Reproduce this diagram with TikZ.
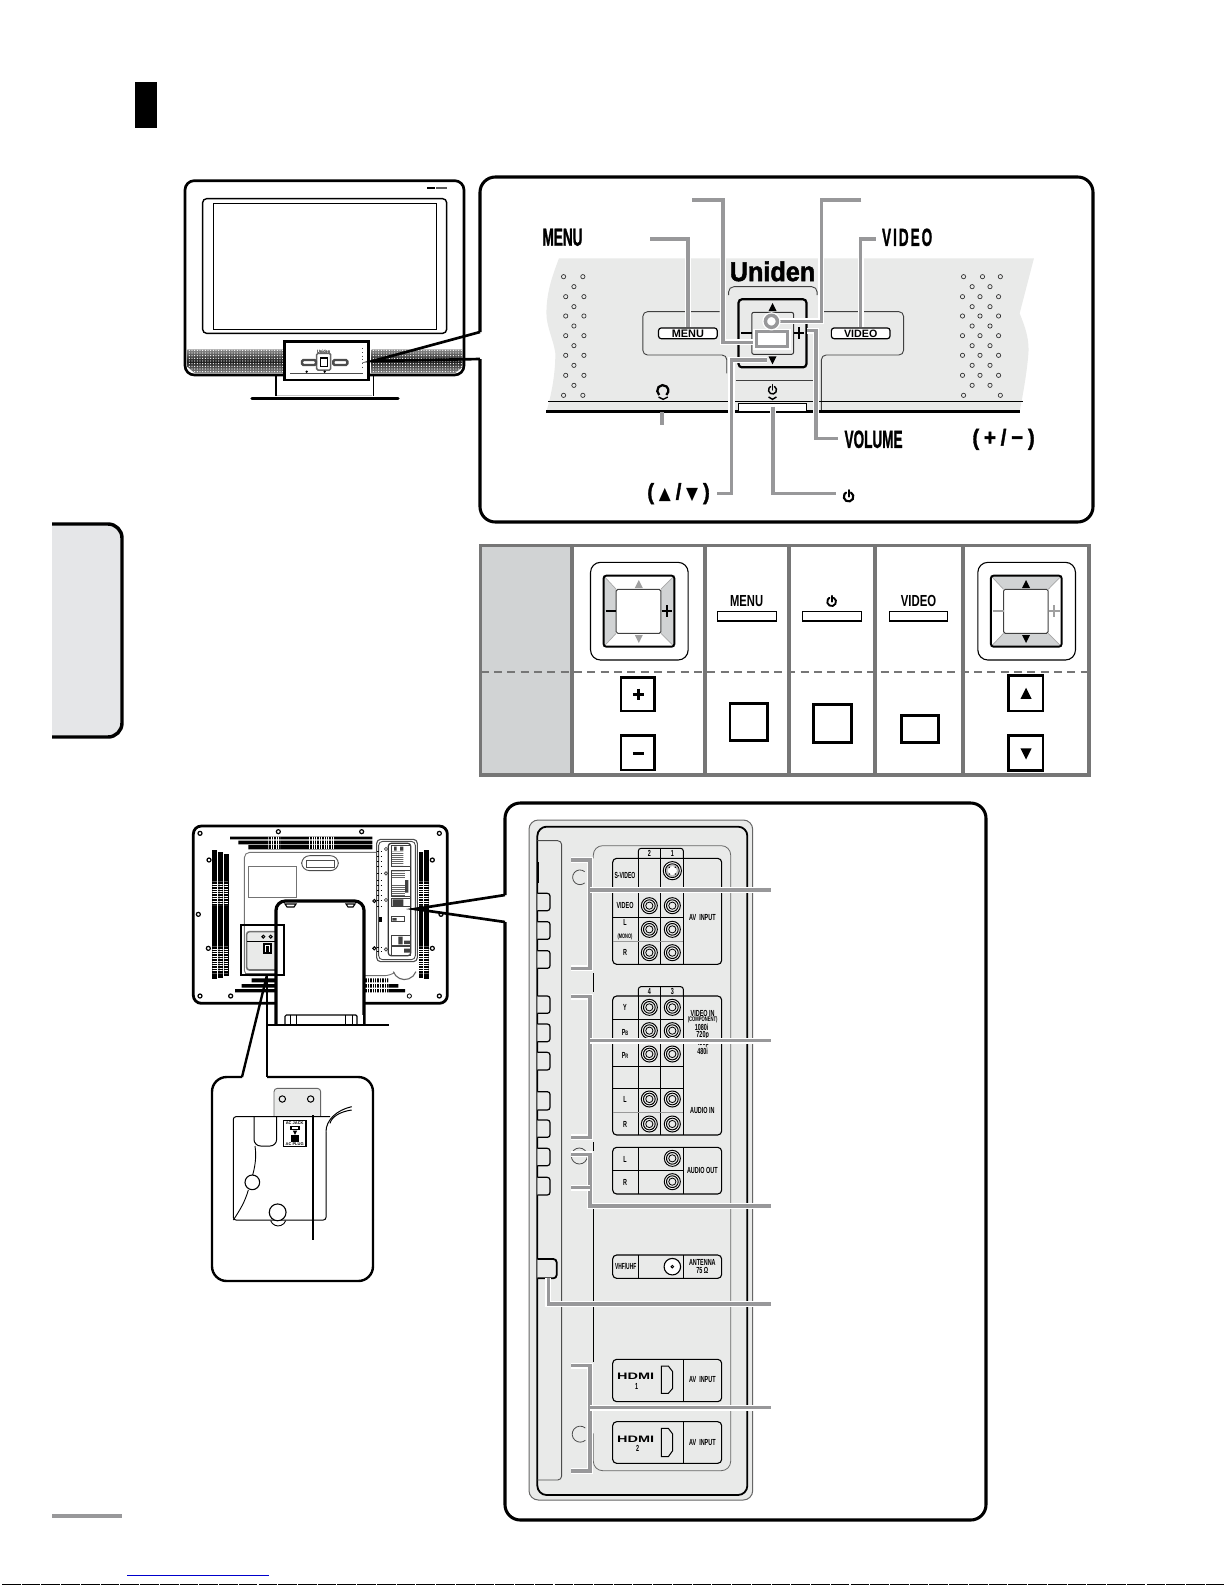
\documentclass[tikz,border=0pt]{standalone}
\usepackage{fontspec,graphicx}
\setmainfont{Liberation Sans}
\newfontfamily\djv{DejaVu Sans}
\newfontfamily\hvy[FakeBold=1.6]{Liberation Sans Bold}
\usetikzlibrary{patterns,patterns.meta}
\definecolor{leadgray}{HTML}{98989A}
\definecolor{bandgray}{HTML}{E9EAE9}
\definecolor{tabgray}{HTML}{E5E6E8}
\definecolor{tblgray}{HTML}{767676}
\definecolor{cellgray}{HTML}{D1D3D4}
\definecolor{symgray}{HTML}{A0A0A0}
\newcommand\fs[1]{\fontsize{#1}{#1}\selectfont}
\newcommand\hd[1]{\scalebox{.55}[1]{\fs{18.5pt}\hvy #1}}
\newcommand\tl[1]{\scalebox{.62}[1]{\fs{6.6pt}\bfseries #1}}
\newcommand\lb[3]{\node[txt] (#1) at (#2) {#3};}
\newcommand\uptri[4]{\fill[#4] (#1) ++(-#2pt,-#3pt) -- ++(2*#2pt,0pt) -- ++(-#2pt,2*#3pt) -- cycle;}
\newcommand\dntri[4]{\fill[#4] (#1) ++(-#2pt,#3pt) -- ++(2*#2pt,0pt) -- ++(-#2pt,-2*#3pt) -- cycle;}
\newcommand\pwr[3]{\draw[line width=#3pt,line cap=round] (#1) ++(60:#2pt) arc[start angle=60,delta angle=-300,radius=#2pt];
  \draw[line width=#3pt,line cap=round] (#1) -- ++(0pt,1.35*#2pt);}
\newcommand\jack[1]{\draw[px=1,fill=white] (#1) circle (6pt);\draw[px=1,fill=bandgray] (#1) circle (4.4pt);\draw[px=.8] (#1) circle (2.7pt);}
\newcommand\dpadcell[5]{%
  \draw[px=1.1,fill=white,rounded corners=7.5pt] (#1+305,97) rectangle (#1+552,390);
  \fill[#2] (#1+338,137) -- (#1+370,178) -- (#1+370,310) -- (#1+338,350) -- cycle;
  \fill[#2] (#1+517,137) -- (#1+483,178) -- (#1+483,310) -- (#1+517,350) -- cycle;
  \fill[#3] (#1+338,137) -- (#1+517,137) -- (#1+483,178) -- (#1+370,178) -- cycle;
  \fill[#3] (#1+338,350) -- (#1+517,350) -- (#1+483,310) -- (#1+370,310) -- cycle;
  \draw[px=.7,gray!70] (#1+338,137) -- (#1+370,178) (#1+517,137) -- (#1+483,178) (#1+338,350) -- (#1+370,310) (#1+517,350) -- (#1+483,310);
  \draw[px=1.9,rounded corners=2pt] (#1+338,137) rectangle (#1+517,350);
  \draw[px=1,fill=white,rounded corners=1.2pt,draw=black!75] (#1+370,178) rectangle (#1+483,310);
  \uptri{#1+427,162}{3}{3}{#5}
  \dntri{#1+427,327}{3}{3}{#5}
  \draw[#4,px=1.6] (#1+343,243) -- (#1+370,243) (#1+485,243) -- (#1+512,243) (#1+498,226) -- (#1+498,260);
}
\tikzset{
  px/.style={line width=#1*0.75pt},
  txt/.style={inner sep=0pt,outer sep=0pt,align=center},
  leader/.style={draw=leadgray,line width=2.6pt,preaction={draw=white,line width=4.6pt}},
  frame/.style={draw=black,line width=2.3pt,rounded corners=11.5pt},
  btn/.style={draw=black,px=1.2,fill=white,rounded corners=2pt,inner sep=0pt,minimum height=8pt},
  hit/.style={draw=black,line width=2.2pt},
  squarebox/.style={draw=black,line width=2.1pt},
  grill/.style={top color=black!45,bottom color=black!45,middle color=black!90},
  grilldots/.style={pattern={Dots[distance=2pt,radius=.45pt]},pattern color=white},
}
\begin{document}
\begin{tikzpicture}[x=0.75pt,y=-0.75pt]
\useasboundingbox (0,0) rectangle (1225,1585);
\fill[white] (0,0) rectangle (1225,1585);
% page furniture
\fill[black] (135,82) rectangle (157,128);
\fill[tabgray] (52,524) -- (108,524) arc[start angle=90,end angle=0,radius=10.5pt] -- (122,723) arc[start angle=0,end angle=-90,radius=10.5pt] -- (52,737) -- cycle;
\draw[black,line width=2.6pt] (52,524) -- (108,524) arc[start angle=90,end angle=0,radius=10.5pt] -- (122,723) arc[start angle=0,end angle=-90,radius=10.5pt] -- (52,737);
\fill[leadgray] (52,1514) rectangle (122,1518);
\draw[blue!80!black,px=1] (127,1575) -- (269,1575);
\draw[black,px=1.2,dash pattern=on 14pt off .8pt] (2,1584.5) -- (1225,1584.5);

% ---------- front TV ----------
\begin{scope}[shift={(170,170)},x=0.25pt,y=-0.25pt]
  \draw[black,line width=2pt,fill=white,rounded corners=7pt] (45,32) rectangle (882,615);
  \draw[black,px=1.4,rounded corners=3pt] (98,86) rectangle (830,490);
  \draw[black,px=1] (130,100) rectangle (800,478);
  \shade[grill] (52,538) -- (340,538) -- (340,610) -- (75,610) -- (52,590) -- cycle;
  \fill[grilldots] (52,538) -- (340,538) -- (340,610) -- (75,610) -- (52,590) -- cycle;
  \shade[grill] (605,538) -- (878,538) -- (878,590) -- (855,610) -- (605,610) -- cycle;
  \fill[grilldots] (605,538) -- (878,538) -- (878,590) -- (855,610) -- (605,610) -- cycle;
  \fill[black] (772,50) rectangle (795,58);
  \fill[black!65] (798,52) rectangle (830,57);
  \draw[black,px=1.2] (318,615) -- (318,678) (610,615) -- (610,678);
  \draw[black,line width=2.6pt,line cap=round] (246,685) -- (684,685);
  \draw[gray!45,px=1.3] (322,677) -- (606,677);
  \draw[black,line width=2.2pt,fill=white] (343,515) rectangle (595,630);
  \node[txt] (minilogo) at (461,545) {\scalebox{.8}[1]{\fs{3.6pt}\bfseries Uniden}};
  \draw[black!60,px=1.5,fill=white,rounded corners=1pt] (440,550) rectangle (482,600);
  \draw[black,px=1.3,fill=white] (451,564) rectangle (472,590);
  \draw[black!70,px=2.4,rounded corners=1pt] (396,570) rectangle (438,585);
  \draw[black!70,px=2.4,rounded corners=1pt] (490,570) rectangle (532,585);
  \draw[black!70,px=1] (360,610) -- (578,610);
  \draw[black!70,px=1,dotted] (577,535) -- (577,600);
  \fill[black] (410,605) circle (1pt) (464,605) circle (1pt);
\end{scope}
\coordinate (fwedge) at (373,361);
\coordinate (fwedgeA) at (480,332);
\coordinate (fwedgeB) at (480,359);
\draw[black,line width=2pt] (fwedgeA) -- (fwedge) -- (fwedgeB);
\draw[frame] (fwedgeA) -- (480,177) -- (1093,177) -- (1093,522) -- (480,522) -- (fwedgeB);

% ---------- control panel ----------
\begin{scope}[shift={(500,180)},x=0.26786pt,y=-0.25pt]
  \fill[bandgray] (165,235) -- (1495,235) -- (1455,400) .. controls (1470,440) and (1480,470) .. (1480,510) .. controls (1478,560) and (1465,640) .. (1455,695) -- (130,695) .. controls (145,640) and (155,580) .. (155,520) .. controls (150,480) and (130,440) .. (130,400) .. controls (130,330) and (150,280) .. (165,235) -- cycle;
  % speaker holes
  \foreach \a/\b in {178/290,232/290,207/320,184/350,235/350,207/380,184/408,235/408,207/438,184/467,235/467,207/497,184/526,235/526,207/556,184/586,235/586,207/616,178/646,232/646,
   1298/290,1351/290,1401/290,1322/320,1372/320,1295/350,1344/350,1396/350,1322/380,1372/380,1295/408,1344/408,1396/408,1322/438,1372/438,1295/467,1344/467,1396/467,1322/497,1372/497,1295/526,1344/526,1396/526,1322/556,1372/556,1295/586,1344/586,1396/586,1322/616,1372/616,1298/646,1401/646}
    \draw[black!80,px=.7] (\a,\b) circle (1.6pt);
  % outlines
  \draw[black!75,px=.9,rounded corners=3.5pt] (615,395) -- (400,395) -- (400,525) -- (635,525) -- (635,580);
  \draw[black!75,px=.9,rounded corners=3.5pt] (905,395) -- (1130,395) -- (1130,525) -- (900,525) -- (900,690);
  \draw[black!75,px=.9,rounded corners=4pt] (640,345) -- (640,320) -- (888,320) -- (888,345);
  \draw[black!75,px=.9] (660,600) -- (875,600);
  \draw[black,px=1] (135,663) -- (1465,663);
  \draw[black,line width=2pt] (130,695) -- (1455,695);
  \draw[black,px=1,fill=white] (668,670) rectangle (858,695);
  % cluster
  \draw[black,px=2.2,rounded corners=2.5pt] (668,358) rectangle (858,562);
  \draw[black!80,px=1,rounded corners=1.5pt] (705,397) rectangle (822,523);
  \uptri{763,381}{3}{3}{black}
  \dntri{763,541}{3}{3}{black}
  \draw[black,px=2] (675,460) -- (705,460) (822,460) -- (850,460) (836,442) -- (836,478);
  \node[txt] (logo) at (763,274) {\scalebox{.97}[1.05]{\fs{19.5pt}\hvy Uniden}};
  % buttons
  \node[btn,minimum width=44pt] (menubtn) at (526,460) {\fs{8.2pt}\bfseries MENU};
  \node[btn,minimum width=44pt] (videobtn) at (1010,460) {\fs{8pt}\bfseries VIDEO};
  % icons
  \draw[black,line width=1.7pt] (457,645) ++(-3pt,0pt) arc[start angle=-130,delta angle=-280,radius=4.2pt];
  \draw[black,px=1.4] (444,651) -- (457,658) -- (470,651);
  \pwr{763,630}{3}{1.1}
  \draw[black,px=1.4] (752,651) -- (763,658) -- (774,651);
  % leaders
  \coordinate (sensorL) at (720,487);
  \coordinate (top1) at (538,60);
  \draw[leader] (top1) -- (625,60) -- (625,487) -- (sensorL);
  \coordinate (ringR) at (782,424);
  \coordinate (top2) at (1012,60);
  \draw[leader] (top2) -- (900,60) -- (900,424) -- (ringR);
  \coordinate (menuL) at (420,177);
  \draw[leader] (menuL) -| (menubtn.north);
  \coordinate (videoR) at (1052,177);
  \draw[leader] (videoR) -| (videobtn.north);
  \coordinate (udEnd) at (748,540);
  \coordinate (udL) at (608,940);
  \draw[leader] (udL) -- (648,940) -- (648,540) -- (udEnd);
  \coordinate (pwStart) at (765,680);
  \coordinate (pwEnd) at (940,940);
  \draw[leader] (pwStart) |- (pwEnd);
  \coordinate (volStart) at (860,452);
  \coordinate (volEnd) at (945,775);
  \draw[leader] (volStart) -- (885,452) -- (885,775) -- (volEnd);
  \coordinate (hpA) at (453,697);
  \coordinate (hpB) at (453,735);
  \draw[draw=leadgray,line width=2.6pt] (hpA) -- (hpB);
  \draw[draw=leadgray,line width=2.6pt,fill=white,preaction={draw=white,line width=4.6pt}] (718,455) rectangle (805,500);
  \draw[draw=leadgray,line width=2.6pt,fill=white,preaction={draw=white,line width=4.6pt}] (760,424) circle (4.5pt);
  % labels
  \lb{menulbl}{175,172}{\hd{MENU}}
  \lb{videolbl}{1140,172}{\hd{V\kern2.7pt I\kern2.7pt D\kern2.7pt E\kern2.7pt O}}
  \lb{vollbl}{1046,778}{\hd{VOLUME}}
  \lb{plusminus}{1410,778}{\scalebox{.9}[1]{\fs{17pt}\hvy (\kern4pt+\kern4pt/\kern4pt−\kern4pt)}}
  \lb{udlbl}{500,941}{\scalebox{.9}[1]{\fs{17pt}\hvy (\kern4pt{\djv\fs{13pt}▲}\kern4pt/\kern4pt{\djv\fs{13pt}▼}\kern4pt)}}
  \pwr{976,950}{3.6}{1.6}
\end{scope}

% ---------- table ----------
\begin{scope}[shift={(470,530)},x=0.2964pt,y=-0.25pt]
  \fill[cellgray] (27,47) rectangle (258,735);
  \dpadcell{0}{cellgray}{white}{black}{symgray}
  \dpadcell{980}{white}{cellgray}{symgray}{black}
  % buttons
  \node[txt] (tmenu) at (700,213) {\scalebox{.7}[1]{\fs{12pt}\bfseries MENU}};
  \draw[black,px=1.2] (627,245) rectangle (775,273);
  \pwr{915,215}{3.3}{1.4}
  \draw[black,px=1.2] (842,245) rectangle (990,273);
  \node[txt] (tvideo) at (1135,213) {\scalebox{.71}[1]{\fs{12pt}\bfseries VIDEO}};
  \draw[black,px=1.2] (1062,245) rectangle (1208,273);
  % lower squares
  \draw[squarebox] (382,443) rectangle (467,543);
  \draw[black,line width=2.2pt] (412,493) -- (439,493) (425.5,476) -- (425.5,510);
  \draw[squarebox] (382,617) rectangle (467,720);
  \draw[black,line width=2.2pt] (412,670) -- (439,670);
  \draw[squarebox] (658,520) rectangle (752,632);
  \draw[squarebox] (870,523) rectangle (965,637);
  \draw[squarebox] (1092,557) rectangle (1185,637);
  \draw[squarebox] (1363,437) rectangle (1450,543);
  \uptri{1407,490}{4.2}{4.2}{black}
  \draw[squarebox] (1363,617) rectangle (1450,722);
  \dntri{1407,672}{4.2}{4.2}{black}
  % grid
  \draw[tblgray,line width=2.6pt] (27,47) rectangle (1566,735);
  \draw[tblgray,line width=2.6pt] (258,47) -- (258,735) (595,47) -- (595,735) (807,47) -- (807,735) (1025,47) -- (1025,735) (1247,47) -- (1247,735);
  \draw[tblgray,line width=1.3pt,dash pattern=on 6pt off 4pt] (27,425) -- (1566,425);
\end{scope}

% ---------- rear TV ----------
\begin{scope}[shift={(180,810)},x=0.25pt,y=-0.25pt]
  \draw[black,line width=2.1pt,fill=white,rounded corners=6pt] (40,48) rectangle (802,580);
  % vents
  \fill[black] (150,80) rectangle (577,88) (175,92) rectangle (577,103) (205,105) rectangle (577,118);
  \fill[pattern={Lines[angle=90,distance=1.8pt,line width=.7pt]},pattern color=white] (265,80) rectangle (300,118) (385,80) rectangle (465,118);
  \foreach \a/\b/\c/\d in {97/112/120/508,115/128/127/503,132/146/133/498,716/730/127/505,732/747/120/508}{
    \fill[black] (\a,\c) rectangle (\b,\d);
    \fill[pattern={Lines[angle=0,distance=1.8pt,line width=.7pt]},pattern color=white] (\a,215) rectangle (\b,285) (\a,410) rectangle (\b,490);
  }
  \fill[black] (215,505) rectangle (625,517) (185,522) rectangle (655,533) (165,537) rectangle (675,547);
  \fill[pattern={Lines[angle=90,distance=1.8pt,line width=.7pt]},pattern color=white] (555,505) rectangle (625,547);
  % screws
  \foreach \a/\b in {60/70,295/65,545/65,778/70,87/150,757/150,55/313,85/415,757/415,60/558,152/558,778/558,783/313}
    \draw[black,px=1.2] (\a,\b) circle (1.5pt);
  \draw[black,px=.8] (688,558) circle (1.6pt);
  % inner outline
  \draw[black!55,px=.9,rounded corners=4pt,fill=white] (590,127) -- (193,127) -- (193,497) -- (630,497) -- (640,490);
  \draw[black!70,px=.9,rounded corners=6pt] (365,137) rectangle (475,182);
  \draw[black!70,px=.9] (378,150) rectangle (462,172);
  \draw[black!55,px=.9] (205,170) rectangle (350,262);
  % power zone
  \draw[black!55,px=1.6,rounded corners=2pt,fill=bandgray] (200,365) rectangle (300,480);
  \draw[black,px=.9] (200,395) -- (295,395);
  \draw[black,px=1] (250,380) circle (1.1pt) (272,380) circle (1.1pt);
  \fill[black] (248,400) rectangle (277,432);
  \fill[white] (255,405) rectangle (270,425);
  \fill[black] (258,408) rectangle (267,432);
  \draw[black!60,px=.9] (195,490) -- (285,490);
  % terminal panel
  \draw[black!60,px=1.1] (640,485) arc[start angle=-160,delta angle=140,radius=9pt];
  \draw[black!70,px=1.1,fill=white,rounded corners=3pt] (590,88) rectangle (712,455);
  \draw[black!70,px=.9,rounded corners=3pt] (596,94) rectangle (706,449);
  \draw[black!80,px=1.2,rounded corners=2pt] (625,100) rectangle (692,437);
  \foreach \b in {125,140,155,170,190,210,225,240,255,272,288,412,425}
    \draw[black,px=.8,dash pattern=on 1.5pt off 1pt] (592,\b) -- (605,\b);
  \fill[black] (598,322) rectangle (605,335);
  \foreach \a/\b/\c/\d in {633/105/692/168,633/180/692/260,633/265/692/290,633/320/672/335,633/377/692/405,633/410/692/435}{
    \draw[black!75,px=.9] (\a,\b) rectangle (\c,\d);
  }
  \fill[pattern={Lines[angle=0,distance=1.5pt,line width=.6pt]},pattern color=black!60] (636,125) rectangle (670,165) (636,185) rectangle (675,205) (636,225) rectangle (675,258);
  \fill[black!75] (638,268) rectangle (670,288) (637,324) rectangle (650,332) (655,380) rectangle (668,403);
  \fill[black!75] (642,110) rectangle (650,122) (660,110) rectangle (670,122) (675,210) rectangle (685,248) (672,392) rectangle (690,402) (672,416) rectangle (690,428);
  \draw[black!70,px=.8] (618,117) circle (1.2pt) (618,190) circle (1.2pt) (618,270) circle (1.2pt) (618,418) circle (1.2pt);
  \draw[black,px=1] (583,273) circle (1.2pt) (583,415) circle (1.2pt);
\end{scope}
% stand
\draw[black,line width=2.4pt,fill=white,rounded corners=7pt] (276,1024) -- (276,901) -- (364,901) -- (364,1024);
\fill[white] (277.5,1015) rectangle (362.5,1024);
\draw[black,px=1.2,rounded corners=1pt] (285,1024) -- (285,1015) -- (357,1015) -- (357,1024);
\draw[black,px=1] (290,1015) -- (290,1024) (296,1015) -- (296,1024) (345,1015) -- (345,1024) (352,1015) -- (352,1024);
\draw[black,px=1.1] (285,904) -- (296,904) -- (294,907) -- (287,907) -- cycle (346,904) -- (355,904) -- (353,907) -- (348,907) -- cycle;
\draw[black,line width=1.6pt] (266,1025) -- (389,1025);
% highlight box
\draw[hit] (241,925) rectangle (284,975);
\coordinate (rwedge) at (415,909);
\coordinate (rwedgeA) at (505,895);
\coordinate (rwedgeB) at (505,922);
\draw[black,line width=2pt] (rwedgeA) -- (rwedge) -- (rwedgeB);
\draw[frame] (rwedgeA) -- (505,803) -- (986,803) -- (986,1520) -- (505,1520) -- (rwedgeB);

% ---------- inset ----------
\coordinate (hitA) at (267,975);
\coordinate (insA) at (242,1077);
\coordinate (insB) at (267,1077);
\draw[black,line width=1.8pt] (hitA) -- (insA);
\draw[black,line width=1.8pt] (hitA) -- (insB);
\draw[black,line width=1.8pt,rounded corners=11pt] (insB) -- (373,1077) -- (373,1281) -- (212,1281) -- (212,1077) -- (insA);
\begin{scope}[shift={(200,1060)},x=0.25pt,y=-0.25pt]
  \draw[black!60,px=.9,fill=bandgray,rounded corners=2.5pt] (222,170) -- (222,85) -- (362,85) -- (362,170);
  \draw[black,px=1] (247,117) circle (2.4pt) (332,117) circle (2.4pt);
  \draw[black,px=1,rounded corners=2pt] (390,170) -- (100,170) -- (100,480) -- (378,480) -- (378,215);
  \draw[black,px=1] (378,215) .. controls (378,180) and (410,150) .. (455,140);
  \draw[black,px=1] (390,190) .. controls (395,170) and (420,155) .. (455,150);
  \draw[black,px=1,rounded corners=5pt] (162,170) -- (162,258) -- (230,258) -- (230,170);
  \draw[black,px=.9] (165,258) .. controls (170,290) and (165,320) .. (158,345);
  \draw[black,px=.9] (145,390) .. controls (135,425) and (120,450) .. (100,480);
  \draw[black,px=1.1,fill=white] (157,367) circle (5.5pt);
  \draw[black,px=1.1,fill=white] (233,457) circle (6.3pt);
  \draw[black,px=.9] (212,482) arc[start angle=200,end angle=340,radius=6pt];
  \draw[black,px=1.6,fill=white] (250,182) rectangle (318,260);
  \node[txt] (acjack) at (284,190) {\fs{3pt}\bfseries AC JACK};
  \fill[black] (270,197) rectangle (300,210);
  \fill[white] (275,201) rectangle (295,206);
  \dntri{285,218}{1.6}{1.6}{black}
  \fill[black] (272,226) rectangle (298,245);
  \node[txt] (acplug) at (284,252) {\fs{3pt}\bfseries AC PLUG};
  \coordinate (brkTop) at (340,165);
  \coordinate (brkEnd) at (340,540);
  \draw[black,line width=1.3pt] (brkTop) -- (brkEnd);
\end{scope}

% ---------- rear panel ----------
\begin{scope}[shift={(510,800)},x=0.25pt,y=-0.25pt]
  \draw[black!60,px=1,fill=bandgray,rounded corners=7pt] (57,60) rectangle (728,2100);
  \draw[black,px=1.8,rounded corners=7pt] (82,80) rectangle (712,2085);
  \draw[black!70,px=.9,rounded corners=3pt] (82,122) -- (155,122) -- (155,2040) -- (82,2040);
  \fill[black] (82,187) rectangle (88,250);
  \foreach \t/\b in {280/332,365/418,452/505,588/640,672/725,757/810,875/930,960/1012,1045/1097,1132/1185}
    \draw[black,px=1.2,rounded corners=2pt,fill=bandgray] (82,\t) -- (120,\t) -- (120,\b) -- (82,\b);
  \draw[black,px=1.8,rounded corners=2.5pt,fill=bandgray] (82,1377) -- (140,1377) -- (140,1435) -- (82,1435);
  % group outline
  \draw[black!60,px=.8,rounded corners=7pt] (250,175) -- (250,137) -- (662,137) -- (662,2012) -- (250,2012) -- (250,1900);
  \draw[black,px=1] (250,520) -- (250,577);
  \draw[black,px=1] (250,1026) -- (250,1052);
  \draw[black,px=1] (250,1225) -- (250,1685);
  % arcs
  \draw[black!70,px=.8] (224,215) arc[start angle=50,delta angle=260,radius=5.5pt];
  \draw[black!70,px=.8] (208,1068) circle (6pt);
  \draw[black!70,px=.8] (226,1884) arc[start angle=50,delta angle=260,radius=6pt];
  % AV INPUT
  \draw[black,px=1.1,rounded corners=3pt] (308,175) rectangle (635,493);
  \draw[black,px=1,rounded corners=2pt] (385,175) -- (385,145) -- (520,145) -- (520,175);
  \draw[black,px=1] (385,175) -- (385,493) (452,145) -- (452,493) (520,175) -- (520,493);
  \draw[black,px=.9] (308,268) -- (520,268) (308,353) -- (520,353);
  \draw[black!40,px=1] (308,423) -- (520,423);
  \lb{n2}{418,160}{\tl{2}}
  \lb{n1}{487,160}{\tl{1}}
  \lb{svid}{345,227}{\scalebox{.93}[1]{\tl{S-VIDEO}}}
  \lb{vid}{345,315}{\tl{VIDEO}}
  \lb{lmono}{345,388}{\tl{L}\\[-2.5pt]\scalebox{.62}[1]{\fs{4.8pt}\bfseries (MONO)}}
  \lb{rr}{345,458}{\tl{R}}
  \lb{avin}{577,352}{\tl{AV\ \ INPUT}}
  \foreach \a/\b in {418/317,487/317,418/388,487/388,418/458,487/458}{\jack{\a,\b}}
  \draw[black,px=1,fill=white] (487,212) circle (6.8pt);
  \draw[black,px=.9,fill=black!25] (487,212) circle (5.2pt);
  \fill[white] (487,212) circle (3.4pt);
  \fill[black] (478,202) circle (.6pt) (496,202) circle (.6pt) (478,222) circle (.6pt) (496,222) circle (.6pt);
  % VIDEO IN
  \draw[black,px=1.1,rounded corners=3pt] (308,588) rectangle (635,1005);
  \draw[black,px=1,rounded corners=2pt] (385,588) -- (385,560) -- (520,560) -- (520,588);
  \draw[black,px=1] (385,588) -- (385,1005) (452,560) -- (452,1005) (520,588) -- (520,1005);
  \draw[black,px=.9] (308,658) -- (520,658) (308,730) -- (520,730) (308,800) -- (520,800) (308,865) -- (520,865);
  \draw[black!40,px=1] (308,937) -- (520,937);
  \lb{n4}{418,573}{\tl{4}}
  \lb{n3}{487,573}{\tl{3}}
  \lb{yy}{345,622}{\tl{Y}}
  \lb{pb}{345,697}{\tl{P{\fs{4.8pt}B}}}
  \lb{pr}{345,767}{\tl{P{\fs{4.8pt}R}}}
  \lb{ll}{345,898}{\tl{L}}
  \lb{rb}{345,972}{\tl{R}}
  \lb{vidin}{578,640}{\tl{VIDEO IN}}
  \lb{comp}{578,659}{\scalebox{.62}[1]{\fs{5pt}\bfseries (COMPONENT)}}
  \lb{i1080}{575,681}{\tl{1080i}}
  \lb{p720}{578,705}{\tl{720p}}
  \lb{p480}{578,731}{\tl{480p}}
  \lb{i480}{578,755}{\tl{480i}}
  \lb{audin}{577,932}{\tl{AUDIO IN}}
  \foreach \a/\b in {418/622,487/622,418/692,487/692,418/762,487/762,418/897,487/897,418/972,487/972}{\jack{\a,\b}}
  % AUDIO OUT
  \draw[black,px=1.1,rounded corners=3pt] (308,1042) rectangle (635,1182);
  \draw[black,px=1] (385,1042) -- (385,1182) (520,1042) -- (520,1182);
  \draw[black,px=.9] (308,1112) -- (520,1112);
  \lb{al}{345,1077}{\tl{L}}
  \lb{ar}{345,1147}{\tl{R}}
  \lb{audout}{577,1112}{\tl{AUDIO OUT}}
  \foreach \a/\b in {487/1075,487/1145}{\jack{\a,\b}}
  % ANTENNA
  \draw[black,px=1.1,rounded corners=3pt] (308,1365) rectangle (635,1435);
  \draw[black,px=1] (385,1365) -- (385,1435) (520,1365) -- (520,1435);
  \lb{vhf}{347,1400}{\scalebox{.9}[1]{\tl{VHF/UHF}}}
  \lb{ant}{577,1387}{\tl{ANTENNA}}
  \lb{ohm}{577,1411}{\tl{75 Ω}}
  \draw[black,px=1.1,fill=white] (487,1400) circle (6.2pt);
  \draw[black,px=.9] (487,1400) circle (1pt);
  % HDMI 1 & 2
  \draw[black,px=1.1,rounded corners=3pt] (308,1678) rectangle (635,1805);
  \draw[black,px=1] (520,1678) -- (520,1805);
  \lb{hdmi1}{377,1730}{\scalebox{1.55}[1]{\fs{7pt}\bfseries HDMI}}
  \lb{h1}{380,1758}{\tl{1}}
  \lb{av1}{577,1738}{\tl{AV\ \ INPUT}}
  \draw[black,px=1] (454,1698) -- (475,1698) -- (488,1715) -- (488,1765) -- (475,1780) -- (454,1780) -- cycle;
  \draw[black,px=1.1,rounded corners=3pt] (308,1865) rectangle (635,1990);
  \draw[black,px=1] (520,1865) -- (520,1990);
  \lb{hdmi2}{377,1918}{\scalebox{1.55}[1]{\fs{7pt}\bfseries HDMI}}
  \lb{h2}{383,1945}{\tl{2}}
  \lb{av2}{577,1928}{\tl{AV\ \ INPUT}}
  \draw[black,px=1] (454,1885) -- (475,1885) -- (488,1902) -- (488,1952) -- (475,1970) -- (454,1970) -- cycle;
  % leaders
  \coordinate (A1) at (183,180); \coordinate (A2) at (183,505); \coordinate (Ae) at (782,270);
  \draw[leader] (A1) -- (240,180) -- (240,505) -- (A2);
  \draw[leader] (240,270) -- (Ae);
  \coordinate (B1) at (183,590); \coordinate (B2) at (183,1012); \coordinate (Be) at (782,722);
  \draw[leader] (B1) -- (240,590) -- (240,1012) -- (B2);
  \draw[leader] (240,722) -- (Be);
  \coordinate (C1) at (183,1063); \coordinate (C2) at (183,1163); \coordinate (Ce) at (782,1218);
  \draw[leader] (C1) -- (240,1063) -- (240,1218) -- (Ce);
  \draw[leader] (C2) -- (240,1163);
  \coordinate (D1) at (115,1435); \coordinate (De) at (782,1512);
  \draw[leader] (D1) |- (De);
  \coordinate (E1) at (183,1697); \coordinate (E2) at (183,2013); \coordinate (Ee) at (782,1823);
  \draw[leader] (E1) -- (240,1697) -- (240,2013) -- (E2);
  \draw[leader] (240,1823) -- (Ee);
\end{scope}
\end{tikzpicture}
\end{document}
